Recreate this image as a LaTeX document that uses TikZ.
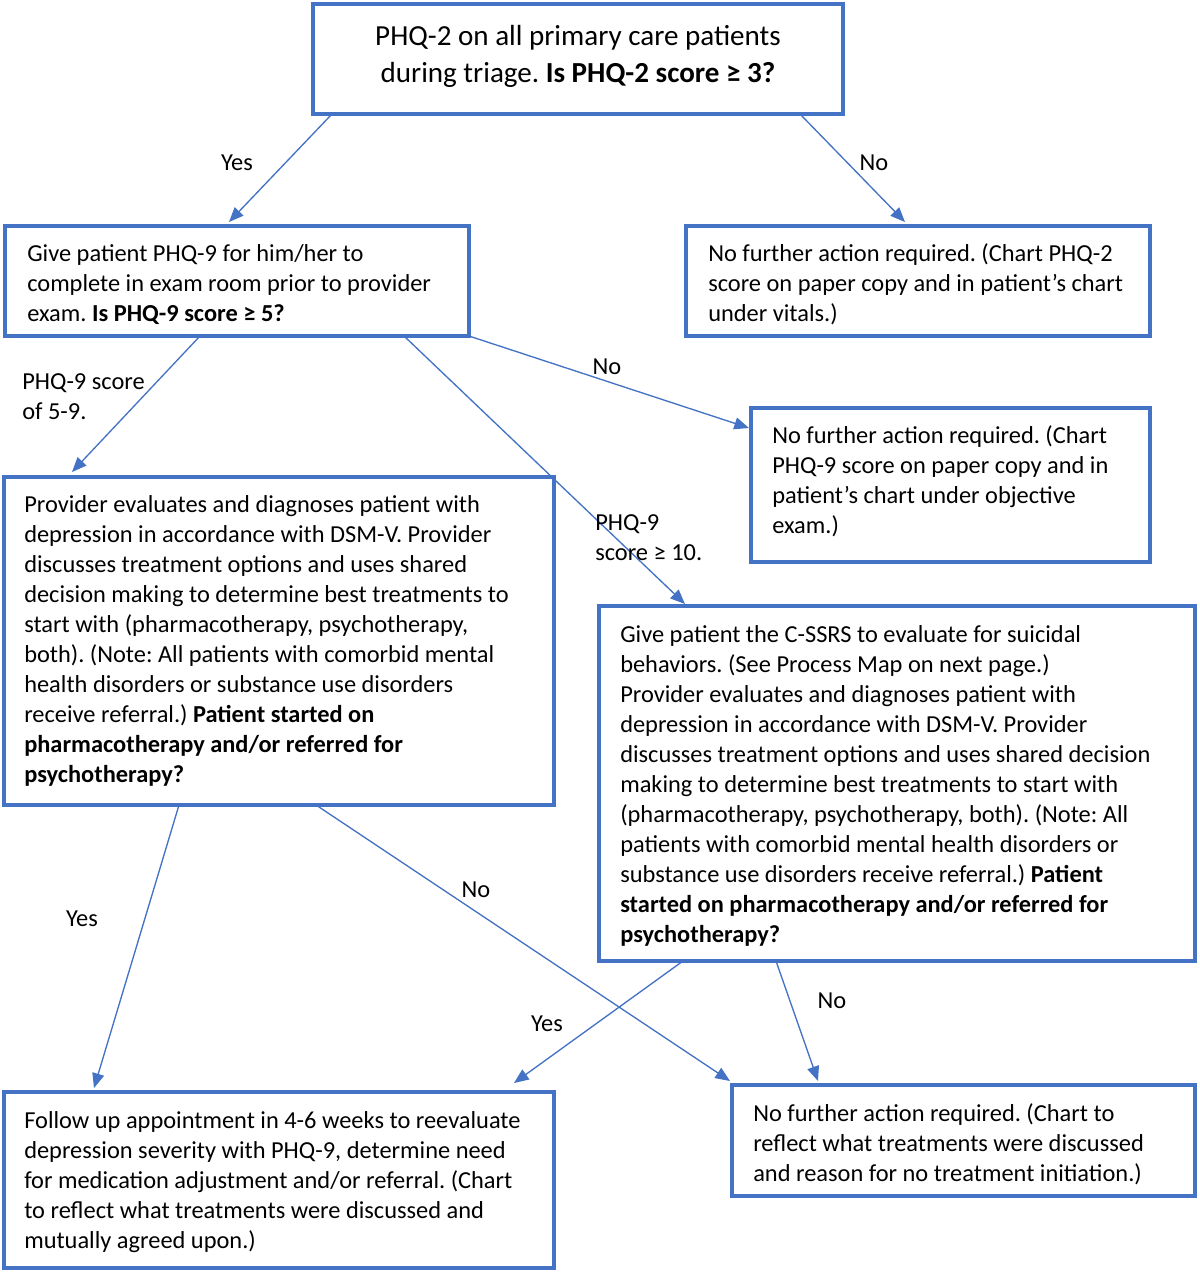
\documentclass[tikz,border=0pt]{standalone}
\usepackage{fontspec}
\setmainfont{Carlito}
\usetikzlibrary{calc,arrows.meta}
\definecolor{fcblue}{RGB}{68,114,196}
\frenchspacing
\begin{document}
\begin{tikzpicture}[x=0.75pt,y=-0.75pt,
  box/.style={draw=fcblue,line width=3pt,rectangle,inner sep=0pt,outer sep=0pt},
  txt/.style={align=left,inner sep=0pt,font=\fontsize{18.3}{22.5}\selectfont\frenchspacing,anchor=west},
  lbl/.style={inner sep=0pt,font=\fontsize{18.3}{22.5}\selectfont\frenchspacing},
  conn/.style={draw=fcblue,line width=1pt,-{Triangle[length=11pt,width=9pt]}}]
\useasboundingbox (0,0) rectangle (1200,1272);
\fill[white] (0,0) rectangle (1200,1272);
% boxes
\node[box,minimum width=397.5pt,minimum height=82.5pt] (b1) at (578,59) {};
\node[box,minimum width=348pt,minimum height=82.5pt] (b2) at (237,281) {};
\node[box,minimum width=348pt,minimum height=82.5pt] (b3) at (918,281) {};
\node[box,minimum width=299.25pt,minimum height=115.5pt] (b4) at (950.5,485) {};
\node[box,minimum width=412.5pt,minimum height=246pt] (b5) at (279,641) {};
\node[box,minimum width=447pt,minimum height=266.25pt] (b6) at (897,783.5) {};
\node[box,minimum width=412.5pt,minimum height=132pt] (b7) at (279,1180) {};
\node[box,minimum width=347.25pt,minimum height=83.25pt] (b8) at (963.5,1140.5) {};
% texts
\node[align=center,inner sep=0pt,font=\fontsize{21.8}{27.75}\selectfont\frenchspacing] (t1) at (578,56)
  {PHQ-2 on all primary care patients\\during triage. \textbf{Is PHQ-2 score ≥ 3?}};
\node[txt] (t2) at ($(b2.west)+(22,4)$)
  {Give patient PHQ-9 for him/her to\\complete in exam room prior to provider\\exam. \textbf{Is PHQ-9 score ≥ 5?}};
\node[txt] (t3) at ($(b3.west)+(22,3)$)
  {No further action required. (Chart PHQ-2\\score on paper copy and in patient’s chart\\under vitals.)};
\node[txt] (t4) at ($(b4.west)+(21,-4)$)
  {No further action required. (Chart\\PHQ-9 score on paper copy and in\\patient’s chart under objective\\exam.)};
\node[txt] (t5) at ($(b5.west)+(20,0)$)
  {Provider evaluates and diagnoses patient with\\depression in accordance with DSM-V. Provider\\discusses treatment options and uses shared\\decision making to determine best treatments to\\start with (pharmacotherapy, psychotherapy,\\both). (Note: All patients with comorbid mental\\health disorders or substance use disorders\\receive referral.) \textbf{Patient started on}\\\textbf{pharmacotherapy and/or referred for}\\\textbf{psychotherapy?}};
\node[txt] (t6) at ($(b6.west)+(21,2)$)
  {Give patient the C-SSRS to evaluate for suicidal\\behaviors. (See Process Map on next page.)\\Provider evaluates and diagnoses patient with\\depression in accordance with DSM-V. Provider\\discusses treatment options and uses shared decision\\making to determine best treatments to start with\\(pharmacotherapy, psychotherapy, both). (Note: All\\patients with comorbid mental health disorders or\\substance use disorders receive referral.) \textbf{Patient}\\\textbf{started on pharmacotherapy and/or referred for}\\\textbf{psychotherapy?}};
\node[txt] (t7) at ($(b7.west)+(20,2)$)
  {Follow up appointment in 4-6 weeks to reevaluate\\depression severity with PHQ-9, determine need\\for medication adjustment and/or referral. (Chart\\to reflect what treatments were discussed and\\mutually agreed upon.)};
\node[txt] (t8) at ($(b8.west)+(21,4)$)
  {No further action required. (Chart to\\reflect what treatments were discussed\\and reason for no treatment initiation.)};
% connectors
\draw[conn] ($(b1.south west)+(19,0)$) -- ($(b2.north west)+(224,-4)$);
\draw[conn] ($(b1.south west)+(487,0)$) -- ($(b3.north west)+(219,-4)$);
\draw[conn] ($(b2.south west)+(195,0)$) -- ($(b5.north west)+(68,-5)$);
\draw[conn] ($(b2.south west)+(399,0)$) -- ($(b6.north west)+(86,-2)$);
\draw[conn] (b2.south east) -- ($(b4.north west)+(-2,20)$);
\draw[conn] ($(b5.south west)+(175,0)$) -- ($(b7.north west)+(90,-4)$);
\draw[conn] ($(b5.south west)+(312,0)$) -- ($(b8.north west)+(-2,-4)$);
\draw[conn] ($(b6.south west)+(84,0)$) -- ($(b7.north west)+(510,-9)$);
\draw[conn] ($(b6.south west)+(177,0)$) -- ($(b8.north west)+(86,-4)$);
% labels
\node[lbl] (l1) at (237,163) {Yes};
\node[lbl] (l2) at (874,163) {No};
\node[lbl] (l3) at (607,367) {No};
\node[lbl,align=left,anchor=west] (l4) at (22,397) {PHQ-9 score\\of 5-9.};
\node[lbl,align=left,anchor=west] (l5) at (595,538) {PHQ-9\\score ≥ 10.};
\node[lbl] (l6) at (82,919) {Yes};
\node[lbl] (l7) at (476,890) {No};
\node[lbl] (l8) at (547,1024) {Yes};
\node[lbl] (l9) at (832,1001) {No};
\end{tikzpicture}
\end{document}
